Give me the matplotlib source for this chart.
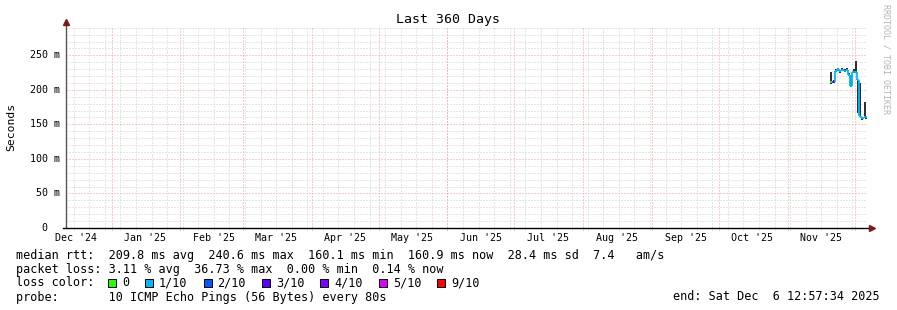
import numpy as np
import pandas as pd
import matplotlib
matplotlib.use("Agg")
import matplotlib.pyplot as plt
from matplotlib.patches import Rectangle

W, H = 897, 310
MONO = "DejaVu Sans Mono"

# ----- data -----
end_time = pd.Timestamp("2025-12-06 12:57:34")
start_time = end_time - pd.Timedelta(days=360)

days = pd.date_range("2025-11-20", "2025-12-06", freq="D")
median_ms = [211, 212, 228, 230, 227, 229, 228, 229, 222, 206, 226, 226, 214, 162, 159, 161, 160]
smoke_lo_ms = [209, 210, 226, 228, 225, 227, 226, 227, 220, 204, 224, 224, 166, 160, 157, 159, 158]
smoke_hi_ms = [226, 214, 230, 232, 229, 231, 230, 231, 224, 222, 230, 242, 214, 210, 161, 183, 162]
loss_idx = [0, 3, 1, 1, 1, 1, 1, 1, 1, 1, 1, 1, 1, 1, 1, 1, 1]

loss_labels = ["0", "1/10", "2/10", "3/10", "4/10", "5/10", "9/10"]
loss_colors = ["#26ff00", "#00b8ff", "#0059ff", "#5e00ff", "#7e00ff", "#dd00ff", "#ff0000"]

y_ticks = [0, 0.05, 0.10, 0.15, 0.20, 0.25]
y_labels = ["0", "50 m", "100 m", "150 m", "200 m", "250 m"]
y_top = 0.291

rtt_line = "median rtt:  209.8 ms avg  240.6 ms max  160.1 ms min  160.9 ms now  28.4 ms sd  7.4   am/s"
loss_line = "packet loss: 3.11 % avg  36.73 % max  0.00 % min  0.14 % now"
probe_line = "probe:       10 ICMP Echo Pings (56 Bytes) every 80s"
end_line = "end: Sat Dec  6 12:57:34 2025"

# ----- figure -----
fig = plt.figure(figsize=(W / 100, H / 100), dpi=100)
fig.patch.set_facecolor("white")
ax = fig.add_axes([66 / W, (H - 228) / H, (867 - 66) / W, (228 - 27) / H])
ax.set_xlim(start_time, end_time)
ax.set_ylim(0, y_top)
for s in ax.spines.values():
    s.set_visible(False)

minor_c = "#cfcfcf"
major_c = "#f09a9a"
dash = dict(linewidth=0.72, linestyles=(0, (1, 2)))

# horizontal grid
minor_y = np.arange(0.01, y_top, 0.01)
ax.hlines([v for v in minor_y if abs(v * 100 % 5) > 0.01 and abs(v * 100 % 5 - 5) > 0.01],
          -3 / 801, 1.0025, transform=ax.get_yaxis_transform(), colors=minor_c, zorder=1, **dash)
ax.hlines(y_ticks[1:], -3 / 801, 1.0025, transform=ax.get_yaxis_transform(),
          colors=major_c, zorder=1.1, **dash)

# vertical grid: weeks (minor) and months (major)
weeks = pd.date_range(start_time, end_time, freq="W-SUN", normalize=True)
weeks = weeks[(weeks > start_time) & (weeks < end_time)]
months = pd.date_range(start_time, end_time, freq="MS", normalize=True)
months = months[(months > start_time) & (months < end_time)]
ax.vlines(weeks, -0.012, 1.005, transform=ax.get_xaxis_transform(), colors=minor_c,
          zorder=1, clip_on=False, **dash)
ax.vlines(months, -0.012, 1.005, transform=ax.get_xaxis_transform(), colors=major_c,
          zorder=1.1, clip_on=False, **dash)

# month labels at mid-month
mids = pd.date_range("2024-12-01", end_time, freq="MS") + pd.Timedelta(days=15)
mids = mids[(mids > start_time) & (mids < end_time)]
ax.set_xticks(mids)
ax.set_xticklabels([d.strftime("%b '%y") for d in mids], fontfamily=MONO, fontsize=7.2)
ax.tick_params(axis="x", length=0, pad=3.5)
ax.set_yticks([])

for v, lbl in zip(y_ticks, y_labels):
    extra = 0 if lbl.endswith("m") else 13
    ax.annotate(lbl, (0, v), xycoords=ax.get_yaxis_transform(), xytext=(-6 - extra, 0),
                textcoords="offset pixels", ha="right", va="center",
                fontfamily=MONO, fontsize=7.2)

# smoke
t = list(days) + [end_time]
for i in range(len(days)):
    tc = t[i] + (t[i + 1] - t[i]) / 2
    ax.vlines(tc, smoke_lo_ms[i] / 1000, smoke_hi_ms[i] / 1000, colors="#1a1a1a",
              linewidth=1.3, zorder=3)

# median line coloured by loss
for i in range(len(days)):
    c = loss_colors[loss_idx[i]]
    v = median_ms[i] / 1000
    ax.plot([t[i], t[i + 1]], [v, v], color=c, linewidth=1.3, zorder=4,
            solid_capstyle="butt")
    if i > 0:
        ax.plot([t[i], t[i]], [median_ms[i - 1] / 1000, v], color=c, linewidth=1.3,
                zorder=4, solid_capstyle="butt")

# axes lines and arrows
arrow_c = "#7a1a1a"
ax.plot([0, 0], [0, 1.02], transform=ax.transAxes, color="#555555", linewidth=1.0,
        clip_on=False, zorder=5)
ax.plot([-3 / 801, 1.004], [0, 0], transform=ax.transAxes, color="black", linewidth=1.0,
        clip_on=False, zorder=5)
ax.plot(0, 1.024, marker="^", markersize=4.5, color=arrow_c, transform=ax.transAxes,
        clip_on=False, zorder=6)
ax.plot(1.006, 0, marker=">", markersize=4.5, color=arrow_c, transform=ax.transAxes,
        clip_on=False, zorder=6)

# titles
fig.text(448 / W, 1 - 19 / H, "Last 360 Days", ha="center", va="center",
         fontfamily=MONO, fontsize=9.5)
fig.text(11 / W, 1 - 127 / H, "Seconds", ha="center", va="center", rotation=90,
         fontfamily=MONO, fontsize=8.2)
fig.text(886 / W, 1 - 4 / H, "RRDTOOL / TOBI OETIKER", ha="center", va="top", rotation=270,
         fontfamily=MONO, fontsize=6, color="#b4b4b4")

# legend rows
fs = 8.5
fig.text(16 / W, 1 - 255 / H, rtt_line, va="center", fontfamily=MONO, fontsize=fs)
fig.text(16 / W, 1 - 269 / H, loss_line, va="center", fontfamily=MONO, fontsize=fs)
fig.text(16 / W, 1 - 283 / H, "loss color:", va="center", fontfamily=MONO, fontsize=fs)
fig.text(16 / W, 1 - 297 / H, probe_line, va="center", fontfamily=MONO, fontsize=fs)
fig.text(880 / W, 1 - 297 / H, end_line, ha="right", va="center", fontfamily=MONO, fontsize=fs)

x = 108
for lbl, c in zip(loss_labels, loss_colors):
    fig.patches.append(Rectangle((x / W, 1 - 287 / H), 8 / W, 8 / H, facecolor=c,
                                 edgecolor="black", linewidth=0.7,
                                 transform=fig.transFigure, figure=fig))
    fig.text((x + 14) / W, 1 - 283 / H, lbl, va="center", fontfamily=MONO, fontsize=fs)
    x += 14 + len(lbl) * 7.1 + 16

fig.savefig("out.png", dpi=100, facecolor="white")
